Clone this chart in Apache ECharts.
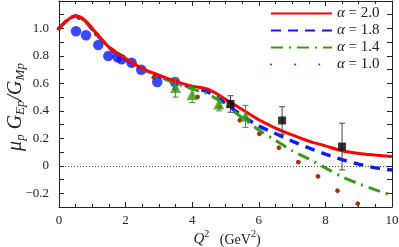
<!DOCTYPE html>
<html><head><meta charset="utf-8">
<script src="https://cdn.jsdelivr.net/npm/echarts@6/dist/echarts.min.js"></script>
<style>html,body{margin:0;padding:0;background:#fff}#c{width:399px;height:247px}</style>
</head><body><div id="c"></div>
<script>
const xs = [0,0.25,0.5,0.75,1,1.25,1.5,2,2.5,3,3.5,4,4.5,5,5.5,6,6.5,7,7.5,8,8.5,9,9.5,10];
const a20 = [1.0,1.06,1.09,1.065,1.0,0.93,0.865,0.78,0.71,0.66,0.615,0.58,0.555,0.485,0.41,0.335,0.275,0.225,0.18,0.145,0.11,0.09,0.078,0.068];
const a18 = [1.0,1.06,1.09,1.06,0.995,0.925,0.86,0.775,0.705,0.655,0.61,0.57,0.535,0.455,0.365,0.29,0.235,0.18,0.13,0.085,0.045,0.012,-0.015,-0.03];
const a14 = [1.0,1.06,1.09,1.06,0.995,0.925,0.865,0.78,0.705,0.65,0.60,0.56,0.52,0.44,0.35,0.26,0.186,0.11,0.05,-0.015,-0.08,-0.13,-0.175,-0.215];
const a10 = [1.0,1.06,1.085,1.055,0.99,0.925,0.86,0.775,0.695,0.62,0.56,0.515,0.47,0.40,0.32,0.235,0.15,0.06,-0.03,-0.115,-0.205,-0.28,-0.35,null];
const blueX = [0.51,0.81,1.18,1.48,1.76,1.88,2.18,2.47,2.95,3.48];
const blueY = [0.98,0.95,0.88,0.80,0.79,0.775,0.75,0.70,0.61,0.61];
const triX = [3.5,4.0,4.8,5.6];
const triY = [0.57,0.52,0.45,0.36];
const triE = [0.07,0.06,0.05,0.08];
const sqX = [5.15,6.7,8.5];
const sqY = [0.45,0.33,0.14];
const sqE = [0.06,0.10,0.17];
const yTicks = [-0.2,0,0.2,0.4,0.6,0.8,1.0];
const names = ['\u03b1 = 2.0','\u03b1 = 1.8','\u03b1 = 1.4','\u03b1 = 1.0'];

const F = 'Liberation Serif';
const pair = (x,y) => x.map((v,i)=>[v,y[i]]);
const trip = (x,y,e) => x.map((v,i)=>[v,y[i],e[i]]);
function errBar(color){
  return function(params, api){
    const x=api.value(0), y=api.value(1), e=api.value(2);
    const t=api.coord([x,y+e]), b=api.coord([x,y-e]);
    const st={stroke:color,lineWidth:1};
    return {type:'group',children:[
      {type:'line',shape:{x1:t[0],y1:t[1],x2:b[0],y2:b[1]},style:st},
      {type:'line',shape:{x1:t[0]-3,y1:t[1],x2:t[0]+3,y2:t[1]},style:st},
      {type:'line',shape:{x1:b[0]-3,y1:b[1],x2:b[0]+3,y2:b[1]},style:st}
    ]};
  };
}
const chart = echarts.init(document.getElementById('c'));
const AL = {show:true,onZero:false,lineStyle:{color:'#222',width:1}};
const AT = {show:true,inside:true,length:5,lineStyle:{color:'#222'}};
chart.setOption({
  animation:false,
  grid:{left:59,right:7,top:1,bottom:40,containLabel:false,outerBoundsMode:'none'},
  xAxis:[
    {type:'value',min:0,max:10,interval:2,position:'bottom',axisLine:AL,axisTick:AT,splitLine:{show:false},
      axisLabel:{fontFamily:F,fontSize:13,color:'#222',margin:7},
      minorTick:{show:true,splitNumber:4,length:3,lineStyle:{color:'#222'}}},
    {type:'value',min:0,max:10,interval:2,position:'top',axisLine:AL,axisTick:AT,splitLine:{show:false},
      axisLabel:{show:false},
      minorTick:{show:true,splitNumber:4,length:3,lineStyle:{color:'#222'}}}
  ],
  yAxis:[
    {type:'value',min:-0.3,max:1.2,interval:0.1,position:'left',axisLine:AL,axisTick:AT,splitLine:{show:false},
      axisLabel:{fontFamily:F,fontSize:13,color:'#222',margin:10,
        formatter:v=>{const r=Math.round(v*10)/10; if(!yTicks.some(t=>Math.abs(t-r)<1e-6)) return ''; if(Math.abs(r)<1e-6) return '0'; return (r<0?'\u2212':'')+Math.abs(r).toFixed(1);}},
      minorTick:{show:false}},
    {type:'value',min:-0.3,max:1.2,interval:0.1,position:'right',axisLine:AL,axisTick:AT,splitLine:{show:false},
      axisLabel:{show:false},minorTick:{show:false}}
  ],
  graphic:[
    {type:'text',x:16,y:107,rotation:Math.PI/2,
     style:{text:'{a|\u03bc}{s|p}{a| G}{s|Ep}{a|/G}{s|Mp}',align:'center',verticalAlign:'middle',fill:'#222',
       rich:{a:{fontSize:20,fontStyle:'italic',fontFamily:F,verticalAlign:'middle',lineHeight:22,fill:'#222'},
             s:{fontSize:13,fontStyle:'italic',fontFamily:F,verticalAlign:'bottom',lineHeight:22,fill:'#222'}}}},
    {type:'text',x:227,y:238,
     style:{text:'{q|Q}{s|2}{n|   (GeV}{s|2}{n|)}',align:'center',verticalAlign:'middle',fill:'#222',
       rich:{q:{fontSize:15,fontStyle:'italic',fontFamily:F,verticalAlign:'bottom',lineHeight:18,fill:'#222'},
             n:{fontSize:14,fontFamily:F,verticalAlign:'bottom',lineHeight:18,fill:'#222'},
             s:{fontSize:10,fontFamily:F,verticalAlign:'top',lineHeight:18,fill:'#222'}}}}
  ],
  legend:{
    left:270,top:6,orient:'vertical',itemWidth:61,itemHeight:14,itemGap:2,padding:0,
    itemStyle:{opacity:0,borderWidth:0},
    textStyle:{fontFamily:F,fontSize:15,color:'#222',
      rich:{g:{fontFamily:F,fontSize:15,fontStyle:'italic',color:'#222'}}},
    formatter:n=>'{g|\u03b1}'+n.slice(1),
    data:names
  },
  series:[
    {name:'blue data',type:'scatter',data:pair(blueX,blueY),symbol:'circle',symbolSize:10.5,
     itemStyle:{color:'#0a1aff'},z:1},
    {name:names[3],type:'line',data:pair(xs,a10),showSymbol:false,symbol:'none',smooth:0.3,
     lineStyle:{color:'#9a3412',width:4.5,type:[0.1,24],cap:'round'},itemStyle:{color:'#9a3412'},z:2,
     markLine:{silent:true,symbol:'none',label:{show:false},data:[{yAxis:0}],
       lineStyle:{color:'#444',width:1,type:[1,2]}}},
    {name:names[1],type:'line',data:pair(xs,a18),showSymbol:false,symbol:'none',smooth:0.3,
     lineStyle:{color:'#0a1aff',width:3.5,type:[10,7]},itemStyle:{color:'#0a1aff'},z:3},
    {name:names[2],type:'line',data:pair(xs,a14),showSymbol:false,symbol:'none',smooth:0.3,
     lineStyle:{color:'#3a9a1a',width:3,type:[12,6,2,6]},itemStyle:{color:'#3a9a1a'},z:4},
    {name:names[0],type:'line',data:pair(xs,a20),showSymbol:false,symbol:'none',smooth:0.3,
     lineStyle:{color:'#ff0000',width:3},itemStyle:{color:'#ff0000'},z:5},
    {name:'tri err',type:'custom',data:trip(triX,triY,triE),renderItem:errBar('#3a9a1a'),z:6},
    {name:'tri',type:'scatter',data:pair(triX,triY),symbol:'triangle',symbolSize:11,itemStyle:{color:'#3a9a1a'},z:7},
    {name:'sq err',type:'custom',data:trip(sqX,sqY,sqE),renderItem:errBar('#444'),z:6},
    {name:'sq',type:'scatter',data:pair(sqX,sqY),symbol:'rect',symbolSize:8,itemStyle:{color:'#000'},z:7}
  ]
});
</script></body></html>
